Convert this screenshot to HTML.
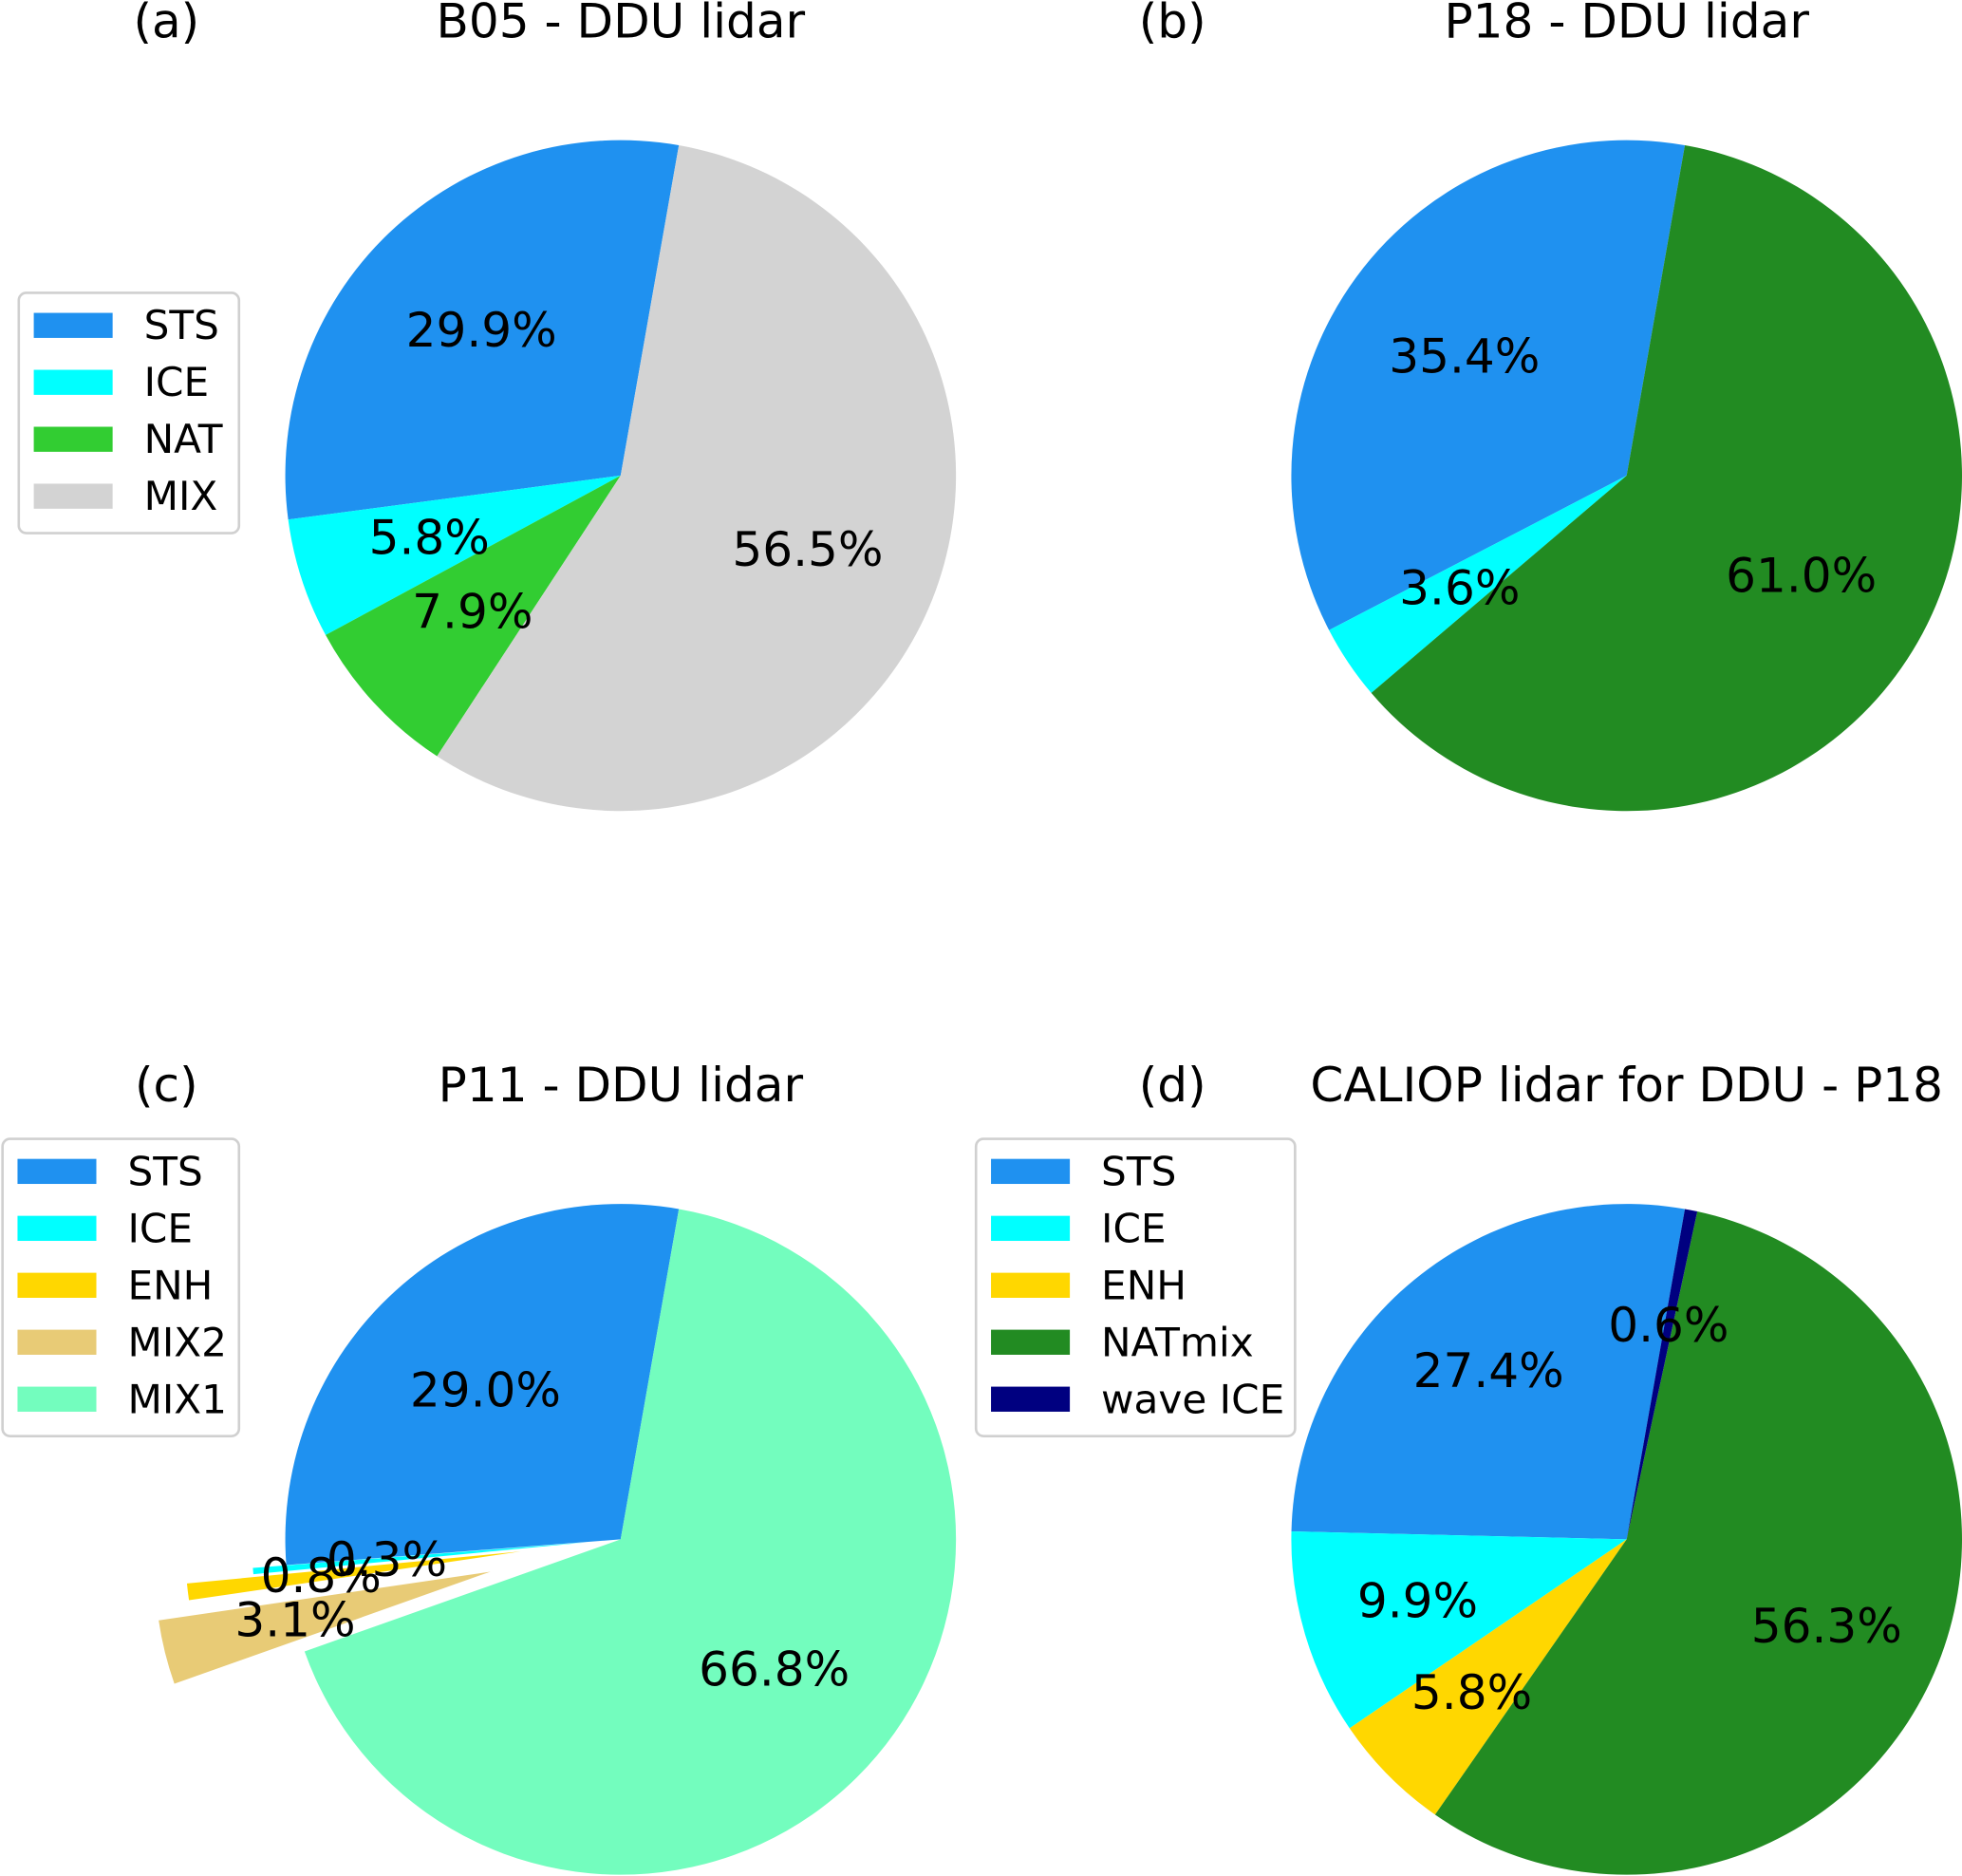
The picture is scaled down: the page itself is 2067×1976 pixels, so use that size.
<!DOCTYPE html>
<html><head><meta charset="utf-8"><style>
html,body{margin:0;padding:0;background:#fff;}
svg{display:block;font-family:"DejaVu Sans","Liberation Sans",sans-serif;}
</style></head><body>
<svg id="fig" width="2067" height="1976" viewBox="0 0 1568 1499" preserveAspectRatio="none" xmlns="http://www.w3.org/2000/svg"></svg>
<script>
const labelsA=["STS","ICE","NAT","MIX"];
const valuesA=[29.9,5.8,7.9,56.5];
const colorsA=["#1f91f0","#00ffff","#32cd32","#d3d3d3"];
const labelsB=["STS","ICE","NATmix"];
const valuesB=[35.4,3.6,61.0];
const colorsB=["#1f91f0","#00ffff","#228b22"];
const labelsC=["STS","ICE","ENH","MIX2","MIX1"];
const valuesC=[29.0,0.3,0.8,3.1,66.8];
const explodeC=[0,0.1,0.3,0.4,0];
const colorsC=["#1f91f0","#00ffff","#ffd700","#e8cb76","#73fdbe"];
const labelsD=["STS","ICE","ENH","NATmix","wave ICE"];
const valuesD=[27.4,9.9,5.8,56.3,0.6];
const colorsD=["#1f91f0","#00ffff","#ffd700","#228b22","#000080"];
const NS="http://www.w3.org/2000/svg";
const svg=document.getElementById('fig');
function mk(tag,attrs,parent){const e=document.createElementNS(NS,tag);for(const k in attrs)e.setAttribute(k,attrs[k]);(parent||svg).appendChild(e);return e;}
const R=268,START=80;
function pie(id,cx,cy,vals,cols,explode,pd){
  const g=mk('g',{});
  
  
  const tot=vals.reduce((a,b)=>a+b,0);
  let a0=START;
  const labs=[];
  vals.forEach((v,i)=>{
    const sweep=v/tot*360,a1=a0+sweep,mid=(a0+a1)/2*Math.PI/180;
    const off=(explode?explode[i]:0)*R;
    const ox=cx+off*Math.cos(mid),oy=cy-off*Math.sin(mid);
    const r0=a0*Math.PI/180,r1=a1*Math.PI/180;
    const x0=ox+R*Math.cos(r0),y0=oy-R*Math.sin(r0),x1=ox+R*Math.cos(r1),y1=oy-R*Math.sin(r1);
    const p=mk('path',{d:`M${ox},${oy}L${x0},${y0}A${R},${R} 0 ${sweep>180?1:0} 0 ${x1},${y1}Z`,fill:cols[i]},g);
    
    
    labs.push([ox+pd*R*Math.cos(mid),oy-pd*R*Math.sin(mid)+13,v]);
    a0=a1;
  });
  labs.forEach(l=>{
    const t=mk('text',{x:l[0],y:l[1],'text-anchor':'middle','font-size':38},g);
    t.textContent=l[2].toFixed(1)+'%';
    
    
  });
}
function title(letter,lx,text,tx,y){
  const a=mk('text',{x:lx,y:y,'text-anchor':'middle','font-size':38});a.textContent=letter;
  
  
  const b=mk('text',{x:tx,y:y,'text-anchor':'middle','font-size':38});b.textContent=text;
  
  
}
function legend(x,y,w,labels,cols){
  const g=mk('g',{});
  
  
  const h=labels.length*45.5+10;
  mk('rect',{x:x,y:y,width:w,height:h,rx:6,fill:'#fff',stroke:'#d0d0d0','stroke-width':2},g);
  labels.forEach((l,i)=>{
    const yy=y+26+i*45.5;
    const r=mk('rect',{x:x+12,y:yy-10,width:63,height:20,fill:cols[i]},g);
    
    
    const t=mk('text',{x:x+100,y:yy+11,'font-size':32},g);t.textContent=l;
    
    
  });
}
pie('pie-a',496,380,valuesA,colorsA,null,0.6);
pie('pie-b',1300,380,valuesB,colorsB,null,0.6);
pie('pie-c',496,1230,valuesC,colorsC,explodeC,0.6);
pie('pie-d',1300,1230,valuesD,colorsD,null,0.65);
title('(a)',133,'B05 - DDU lidar',496,30);
title('(b)',937,'P18 - DDU lidar',1300,30);
title('(c)',133,'P11 - DDU lidar',496,880);
title('(d)',937,'CALIOP lidar for DDU - P18',1300,880);
legend(15,234,176,labelsA,colorsA);
legend(2,910,189,labelsC,colorsC);
legend(780,910,255,labelsD,colorsD);
</script>
</body></html>
